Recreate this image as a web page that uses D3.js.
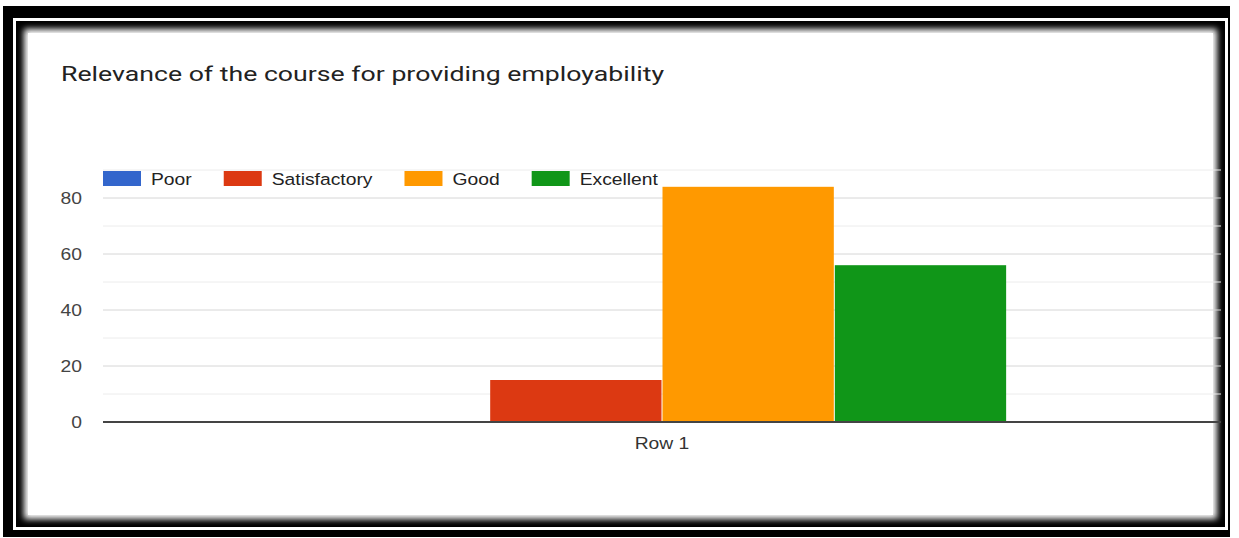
<!DOCTYPE html>
<html>
<head>
<meta charset="utf-8">
<script src="https://cdn.jsdelivr.net/npm/d3@7/dist/d3.min.js"></script>
<style>
  html, body { margin: 0; padding: 0; background: #fff; }
  svg { display: block; }
</style>
</head>
<body>
<script>
// ---- data ----
const title = "Relevance of the course for providing employability";
const categories = ["Row 1"];
const seriesNames = ["Poor", "Satisfactory", "Good", "Excellent"];
const seriesColors = ["#3366cc", "#dc3912", "#ff9900", "#109618"];
const seriesValues = [0, 15, 84, 56];
const majorTicks = [0, 20, 40, 60, 80];
const minorTicks = [10, 30, 50, 70, 90];

const W = 1239, H = 538;
const svg = d3.select("body").append("svg").attr("width", W).attr("height", H);

// ---- frame ----
const defs = svg.append("defs");
defs.append("filter").attr("id", "soft").attr("x", "-5%").attr("y", "-5%").attr("width", "110%").attr("height", "110%")
  .append("feGaussianBlur").attr("stdDeviation", 3.2);
svg.append("rect").attr("x", 3).attr("y", 6).attr("width", 1227).attr("height", 531).attr("fill", "#000");
svg.append("rect").attr("x", 13).attr("y", 18).attr("width", 1215).attr("height", 512).attr("fill", "#fff");
svg.append("rect").attr("x", 16).attr("y", 21).attr("width", 1209).attr("height", 506).attr("fill", "#000");
svg.append("rect").attr("x", 24).attr("y", 29).attr("width", 1193).attr("height", 490).attr("fill", "#fff").attr("filter", "url(#soft)");
svg.append("rect").attr("x", 28).attr("y", 33).attr("width", 1185).attr("height", 482).attr("fill", "#fff");

const SX = 1.17; // horizontal stretch of text
const font = "'Liberation Sans', Arial, sans-serif";

// ---- title ----
svg.append("text").attr("x", 61).attr("y", 81)
  .attr("font-family", "Roboto, 'Open Sans', sans-serif").attr("font-size", 21)
  .attr("fill", "#222").attr("textLength", 603).attr("lengthAdjust", "spacingAndGlyphs")
  .text(title);

// ---- scales ----
const plotL = 103, plotR = 1221, plotT = 170, plotB = 422;
const y = d3.scaleLinear().domain([0, 90]).range([plotB, plotT]);
const x0 = d3.scaleBand().domain(categories).range([plotL, plotR]).paddingInner(0).paddingOuter(0.311);
const x1 = d3.scaleBand().domain(seriesNames).range([0, x0.bandwidth()]).padding(0);

// ---- gridlines ----
const g = svg.append("g");
g.selectAll("line.minor").data(minorTicks).join("line")
  .attr("x1", plotL).attr("x2", plotR).attr("y1", d => y(d)).attr("y2", d => y(d))
  .attr("stroke", "#ececec").attr("stroke-width", 1);
g.selectAll("line.major").data(majorTicks.filter(d => d !== 0)).join("line")
  .attr("x1", plotL).attr("x2", plotR).attr("y1", d => y(d)).attr("y2", d => y(d))
  .attr("stroke", "#d6d6d6").attr("stroke-width", 1);

// tick labels
g.selectAll("text.tick").data(majorTicks).join("text")
  .attr("transform", d => `translate(82,${y(d)}) scale(${SX},1)`)
  .attr("text-anchor", "end").attr("dy", "0.36em")
  .attr("font-family", font).attr("font-size", 16.5).attr("fill", "#444")
  .text(d => d);

// ---- bars ----
const data = seriesNames.map((s, i) => ({ name: s, value: seriesValues[i], color: seriesColors[i] }));
const barG = svg.append("g").attr("transform", `translate(${x0(categories[0])},0)`);
barG.selectAll("rect").data(data).join("rect")
  .attr("x", d => x1(d.name) + 0.5).attr("width", x1.bandwidth() - 1)
  .attr("y", d => y(d.value)).attr("height", d => y(0) - y(d.value))
  .attr("fill", d => d.color);

// baseline
svg.append("line").attr("x1", plotL).attr("x2", plotR).attr("y1", y(0)).attr("y2", y(0))
  .attr("stroke", "#444").attr("stroke-width", 2);

// category label
svg.append("text")
  .attr("transform", `translate(${x0(categories[0]) + x0.bandwidth() / 2},449) scale(${SX},1)`)
  .attr("text-anchor", "middle").attr("font-family", font).attr("font-size", 16.5).attr("fill", "#333")
  .text(categories[0]);

// ---- legend ----
const leg = svg.append("g");
let lx = 103;
data.forEach(d => {
  leg.append("rect").attr("x", lx).attr("y", 171).attr("width", 38).attr("height", 15).attr("fill", d.color);
  const t = leg.append("text")
    .attr("transform", `translate(${lx + 48},185) scale(${SX},1)`)
    .attr("font-family", font).attr("font-size", 16.5).attr("fill", "#222")
    .text(d.name);
  const w = t.node().getComputedTextLength() * SX;
  lx = lx + 48 + w + 32;
});
</script>
</body>
</html>
